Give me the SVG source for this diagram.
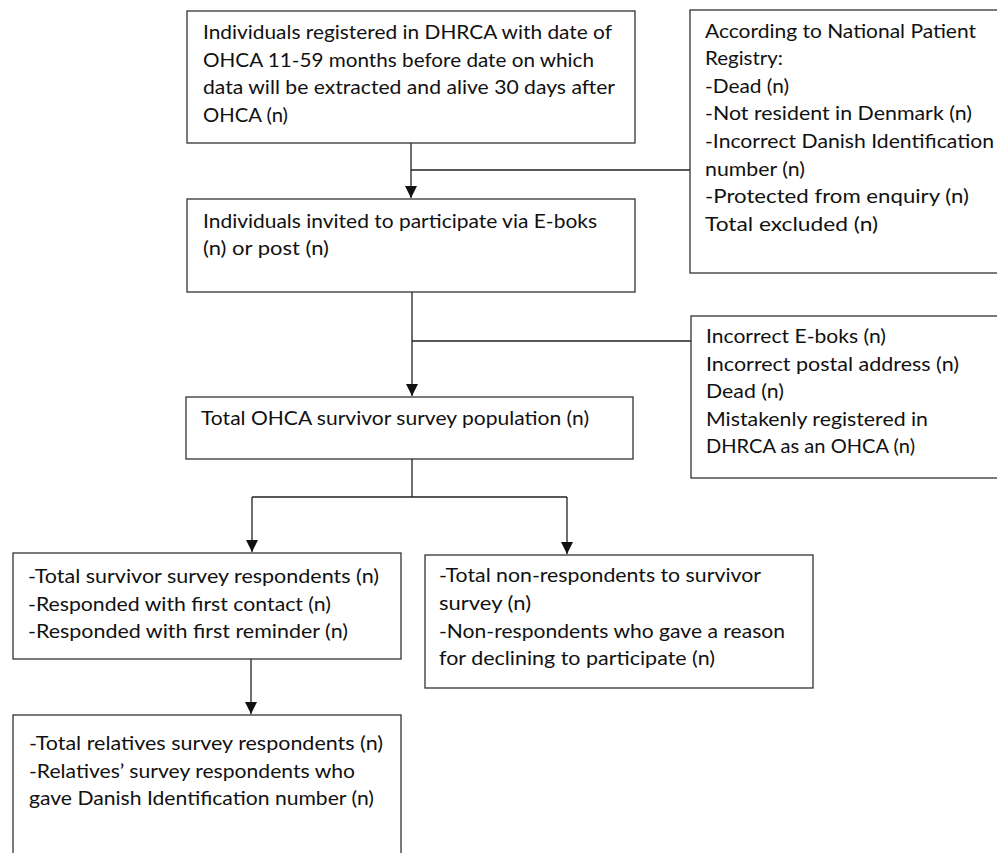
<svg xmlns="http://www.w3.org/2000/svg" width="997" height="853" viewBox="0 0 997 853">
<style>
.box{fill:#fff;stroke:#333;stroke-width:1.3}
.t{font-family:Lato,"Open Sans","Liberation Sans",sans-serif;font-size:20px;fill:#111}
.c{fill:none;stroke:#222;stroke-width:1.3}
</style>
<defs>
<marker id="ah" markerUnits="userSpaceOnUse" markerWidth="12" markerHeight="12" viewBox="0 0 12 12" refX="12" refY="6" orient="auto">
<path d="M0,0 L12,6 L0,12 z" fill="#111"/>
</marker>
</defs>
<rect width="997" height="853" fill="#fff"/>
<g id="connectors">
<path class="c" d="M411,143 V198" marker-end="url(#ah)"/>
<path class="c" d="M411,170 H690"/>
<path class="c" d="M412,292 V396" marker-end="url(#ah)"/>
<path class="c" d="M412,341 H691"/>
<path class="c" d="M412,459 V497 M252,497 H567"/>
<path class="c" d="M252,497 V552" marker-end="url(#ah)"/>
<path class="c" d="M567,497 V554" marker-end="url(#ah)"/>
<path class="c" d="M251,659 V714" marker-end="url(#ah)"/>
</g>
<g id="node1">
<rect class="box" x="187" y="11" width="448" height="132"/>
<text class="t" x="203" y="39" textLength="409" lengthAdjust="spacingAndGlyphs">Individuals registered in DHRCA with date of</text>
<text class="t" x="203" y="66.5" textLength="391" lengthAdjust="spacingAndGlyphs">OHCA 11-59 months before date on which</text>
<text class="t" x="203" y="94" textLength="412" lengthAdjust="spacingAndGlyphs">data will be extracted and alive 30 days after</text>
<text class="t" x="203" y="121.5" textLength="85" lengthAdjust="spacingAndGlyphs">OHCA (n)</text>
</g>
<g id="node2">
<rect class="box" x="187" y="199" width="448" height="93"/>
<text class="t" x="203" y="227.5" textLength="394" lengthAdjust="spacingAndGlyphs">Individuals invited to participate via E-boks</text>
<text class="t" x="203" y="255" textLength="126" lengthAdjust="spacingAndGlyphs">(n) or post (n)</text>
</g>
<g id="node3">
<rect class="box" x="690" y="10" width="330" height="263"/>
<text class="t" x="705" y="37.5" textLength="271" lengthAdjust="spacingAndGlyphs">According to National Patient</text>
<text class="t" x="705" y="65" textLength="78" lengthAdjust="spacingAndGlyphs">Registry:</text>
<text class="t" x="705" y="92.5" textLength="84" lengthAdjust="spacingAndGlyphs">-Dead (n)</text>
<text class="t" x="705" y="120" textLength="267" lengthAdjust="spacingAndGlyphs">-Not resident in Denmark (n)</text>
<text class="t" x="705" y="147.7" textLength="289" lengthAdjust="spacingAndGlyphs">-Incorrect Danish Identification</text>
<text class="t" x="705" y="176" textLength="100" lengthAdjust="spacingAndGlyphs">number (n)</text>
<text class="t" x="705" y="203.3" textLength="264" lengthAdjust="spacingAndGlyphs">-Protected from enquiry (n)</text>
<text class="t" x="705" y="231" textLength="173" lengthAdjust="spacingAndGlyphs">Total excluded (n)</text>
</g>
<g id="node4">
<rect class="box" x="186" y="397" width="447" height="62"/>
<text class="t" x="201" y="425" textLength="388" lengthAdjust="spacingAndGlyphs">Total OHCA survivor survey population (n)</text>
</g>
<g id="node5">
<rect class="box" x="691" y="316" width="330" height="162"/>
<text class="t" x="706" y="343.3" textLength="180" lengthAdjust="spacingAndGlyphs">Incorrect E-boks (n)</text>
<text class="t" x="706" y="371" textLength="253" lengthAdjust="spacingAndGlyphs">Incorrect postal address (n)</text>
<text class="t" x="706" y="398.3" textLength="78" lengthAdjust="spacingAndGlyphs">Dead (n)</text>
<text class="t" x="706" y="426" textLength="222" lengthAdjust="spacingAndGlyphs">Mistakenly registered in</text>
<text class="t" x="706" y="453.3" textLength="209" lengthAdjust="spacingAndGlyphs">DHRCA as an OHCA (n)</text>
</g>
<g id="node6">
<rect class="box" x="13" y="553" width="388" height="106"/>
<text class="t" x="28" y="583.3" textLength="351" lengthAdjust="spacingAndGlyphs">-Total survivor survey respondents (n)</text>
<text class="t" x="28" y="610.7" textLength="303" lengthAdjust="spacingAndGlyphs">-Responded with first contact (n)</text>
<text class="t" x="28" y="638.3" textLength="320" lengthAdjust="spacingAndGlyphs">-Responded with first reminder (n)</text>
</g>
<g id="node7">
<rect class="box" x="425" y="555" width="388" height="133"/>
<text class="t" x="439" y="582.3" textLength="322" lengthAdjust="spacingAndGlyphs">-Total non-respondents to survivor</text>
<text class="t" x="439" y="610" textLength="92" lengthAdjust="spacingAndGlyphs">survey (n)</text>
<text class="t" x="439" y="637.7" textLength="346" lengthAdjust="spacingAndGlyphs">-Non-respondents who gave a reason</text>
<text class="t" x="439" y="665" textLength="276" lengthAdjust="spacingAndGlyphs">for declining to participate (n)</text>
</g>
<g id="node8">
<rect class="box" x="13" y="715" width="388" height="160"/>
<text class="t" x="29" y="750" textLength="354" lengthAdjust="spacingAndGlyphs">-Total relatives survey respondents (n)</text>
<text class="t" x="29" y="777.7" textLength="326" lengthAdjust="spacingAndGlyphs">-Relatives’ survey respondents who</text>
<text class="t" x="29" y="805.3" textLength="345" lengthAdjust="spacingAndGlyphs">gave Danish Identification number (n)</text>
</g>
</svg>
